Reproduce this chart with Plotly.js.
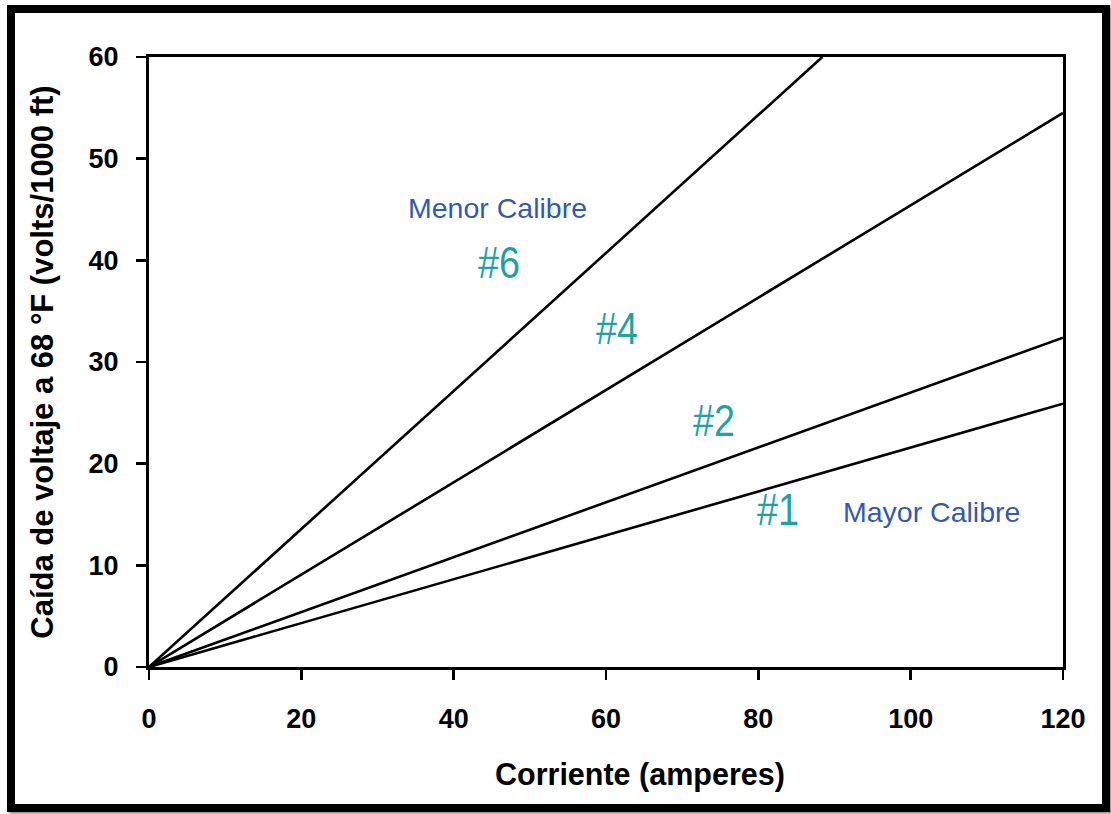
<!DOCTYPE html>
<html>
<head>
<meta charset="utf-8">
<script src="https://cdn.plot.ly/plotly-3.0.1.min.js"></script>
<style>
  html, body { margin: 0; padding: 0; background: #fff; }
  #frame { position: absolute; left: 7px; top: 5px; width: 1103px; height: 807px;
           border: 8px solid #000; box-sizing: border-box; box-shadow: 2px 2px 2px #999; }
  #chart { position: absolute; left: 0; top: 0; width: 1111px; height: 814px; }
  .narrow-label { transform-box: fill-box; transform-origin: center; transform: scaleX(0.84); }
</style>
</head>
<body>
<div id="frame"></div>
<div id="chart"></div>
<script>
// Wire gauges and read-off line end points (current in A, voltage drop in V/1000 ft)
const gauges = ['#6', '#4', '#2', '#1'];
const currentStart = [0, 0, 0, 0];
const currentEnd = [88.4, 120, 120, 120];
const dropStart = [0, 0, 0, 0];
const dropEnd = [60, 54.5, 32.4, 25.9];

const xTicks = [0, 20, 40, 60, 80, 100, 120];
const yTicks = [0, 10, 20, 30, 40, 50, 60];

const FONT = 'Liberation Sans, Arial, Helvetica, sans-serif';
const NARROW = 'Liberation Sans Narrow, Arial Narrow, Liberation Sans, Arial, sans-serif';
const TEAL = '#1fa39e';
const BLUE = '#3558b0';

const traces = gauges.map((g, i) => ({
  type: 'scatter', mode: 'lines', name: g,
  x: [currentStart[i], currentEnd[i]],
  y: [dropStart[i], dropEnd[i]],
  line: { color: '#000', width: 2.6 },
  showlegend: false, hoverinfo: 'skip'
}));

const layout = {
  width: 1111, height: 814,
  margin: { l: 149, r: 48, t: 57, b: 147 },
  paper_bgcolor: 'rgba(0,0,0,0)',
  plot_bgcolor: 'rgba(0,0,0,0)',
  showlegend: false,
  font: { family: FONT, color: '#000' },
  xaxis: {
    range: [0, 120], tickvals: xTicks, ticktext: xTicks.map(String),
    showline: true, mirror: true, linecolor: '#000', linewidth: 3,
    ticks: 'outside', ticklen: 10, tickwidth: 2.5, tickcolor: '#000',
    showgrid: false, zeroline: false, ticklabelstandoff: 16,
    tickfont: { family: FONT, size: 27, color: '#000', weight: 'bold' }
  },
  yaxis: {
    range: [0, 60], tickvals: yTicks, ticktext: yTicks.map(String),
    showline: true, mirror: true, linecolor: '#000', linewidth: 3,
    ticks: 'outside', ticklen: 10, tickwidth: 2.5, tickcolor: '#000',
    showgrid: false, zeroline: false, ticklabelstandoff: 12,
    tickfont: { family: FONT, size: 27, color: '#000', weight: 'bold' },
    title: { text: 'Caída de voltaje a 68 °F (volts/1000 ft)', standoff: 26,
             font: { family: FONT, size: 31, color: '#000', weight: 'bold' } }
  },
  annotations: [
    { text: 'Corriente (amperes)', xref: 'paper', yref: 'paper', x: 0.537, y: -0.176,
      xanchor: 'center', yanchor: 'middle', showarrow: false,
      font: { family: FONT, size: 30.5, color: '#000', weight: 'bold' } },
    { text: 'Menor Calibre', x: 45.7, y: 45.1, showarrow: false,
      font: { family: FONT, size: 28.5, color: BLUE } },
    { text: 'Mayor Calibre', x: 102.7, y: 15.2, showarrow: false,
      font: { family: FONT, size: 28.5, color: BLUE } },
    { text: gauges[0], x: 45.95, y: 39.8, showarrow: false,
      font: { family: NARROW, size: 45, color: TEAL } },
    { text: gauges[1], x: 61.45, y: 33.3, showarrow: false,
      font: { family: NARROW, size: 45, color: TEAL } },
    { text: gauges[2], x: 74.2, y: 24.2, showarrow: false,
      font: { family: NARROW, size: 45, color: TEAL } },
    { text: gauges[3], x: 82.6, y: 15.5, showarrow: false,
      font: { family: NARROW, size: 45, color: TEAL } }
  ]
};

Plotly.newPlot('chart', traces, layout, { displayModeBar: false, staticPlot: true }).then(gd => {
  // Narrow the gauge labels (the original uses a condensed face)
  gd.querySelectorAll('.annotation-text').forEach(t => {
    if (gauges.includes(t.textContent)) t.classList.add('narrow-label');
  });
});
</script>
</body>
</html>
